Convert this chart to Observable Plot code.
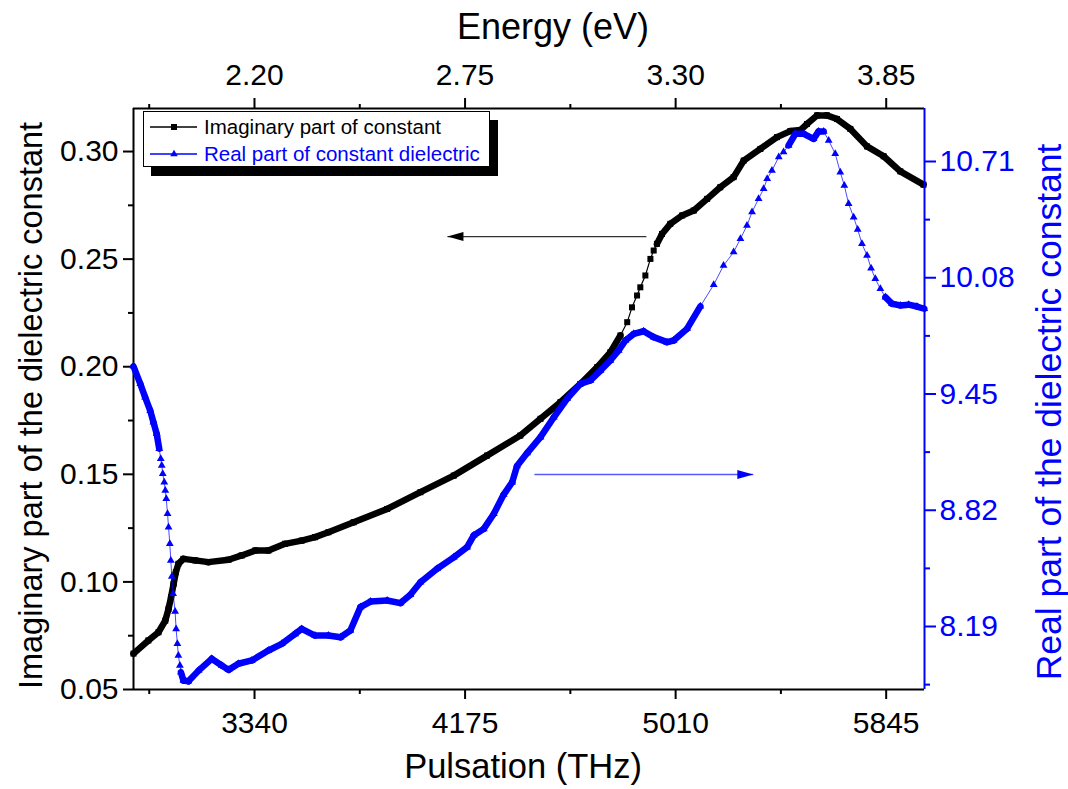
<!DOCTYPE html>
<html>
<head>
<meta charset="utf-8">
<script src="https://cdn.jsdelivr.net/npm/d3@7"></script>
<script src="https://cdn.jsdelivr.net/npm/@observablehq/plot@0.6"></script>
<style>
  html, body { margin: 0; padding: 0; background: #fff; }
  #wrap { position: relative; width: 1068px; height: 789px; overflow: hidden; font-family: "Liberation Sans", Arial, Helvetica, sans-serif; }
  #wrap > svg, #wrap > figure { position: absolute; left: 0; top: 0; margin: 0; }
  #legend { position: absolute; left: 143px; top: 111px; width: 345px; height: 54px; background: #fff;
            border: 1.5px solid #000; box-shadow: 8px 9px 0 #000; font-size: 20.5px; }
  #legend .row { position: absolute; left: 0; height: 26px; display: flex; align-items: center; white-space: nowrap; }
  #legend svg { display: block; }
</style>
</head>
<body>
<div id="wrap"></div>
<script>
// ---------------- data ----------------
// Imaginary part (left axis) vs pulsation (THz)
const imagPulsation = [2860,2919,2959,2986,2999,3009,3019,3028,3038,3058,3105,3157,3237,3289,3343,3395,3461,3527,3580,3633,3733,3866,3998,4130,4262,4394,4474,4553,4632,4699,4751,4791,4818,4837,4857,4870,4890,4910,4923,4936,4956,4989,5036,5082,5135,5187,5240,5280,5346,5412,5465,5505,5531,5571,5610,5650,5703,5769,5835,5901,5993];
const imagValues = [0.0667,0.0728,0.0766,0.0820,0.0875,0.0929,0.0991,0.1045,0.1084,0.1107,0.1100,0.1092,0.1103,0.1123,0.1146,0.1146,0.1177,0.1192,0.1208,0.1231,0.1277,0.1339,0.1417,0.1494,0.1587,0.1680,0.1758,0.1835,0.1920,0.1998,0.2067,0.2145,0.2207,0.2276,0.2331,0.2369,0.2424,0.2501,0.2540,0.2571,0.2617,0.2664,0.2703,0.2726,0.2780,0.2834,0.2881,0.2958,0.3012,0.3067,0.3095,0.3100,0.3128,0.3168,0.3168,0.3151,0.3105,0.3024,0.2978,0.2908,0.2846];

// Real part (right axis) vs pulsation (THz)
const realPulsation = [2860,2887,2906,2926,2939,2952,2962,2968,2972,2976,2982,2986,2990,2995,2999,3004,3008,3012,3017,3025,3029,3034,3038,3044,3048,3058,3078,3118,3170,3210,3237,3276,3329,3395,3448,3501,3527,3580,3633,3681,3720,3760,3800,3866,3919,3958,3998,4064,4130,4183,4209,4249,4289,4328,4362,4381,4421,4474,4527,4580,4632,4672,4712,4751,4784,4811,4844,4883,4923,4976,5002,5055,5108,5161,5200,5240,5267,5293,5313,5339,5359,5373,5392,5419,5438,5458,5485,5518,5557,5577,5597,5617,5643,5663,5679,5696,5716,5732,5749,5769,5785,5802,5822,5842,5868,5901,5934,5967,5996];
const realValues = [9.600,9.505,9.433,9.361,9.297,9.234,9.153,9.099,9.063,9.018,8.972,8.927,8.882,8.801,8.728,8.638,8.548,8.461,8.367,8.271,8.177,8.096,8.033,7.979,7.942,7.897,7.893,7.951,8.015,7.979,7.955,7.988,8.006,8.060,8.096,8.150,8.177,8.141,8.141,8.132,8.168,8.295,8.325,8.331,8.317,8.362,8.430,8.503,8.565,8.620,8.683,8.719,8.801,8.905,8.972,9.060,9.130,9.216,9.324,9.425,9.505,9.523,9.577,9.632,9.686,9.740,9.776,9.790,9.758,9.731,9.740,9.803,9.925,10.042,10.146,10.219,10.291,10.363,10.436,10.508,10.562,10.616,10.661,10.734,10.761,10.797,10.860,10.860,10.833,10.873,10.873,10.824,10.752,10.652,10.580,10.481,10.408,10.342,10.264,10.201,10.132,10.074,10.020,9.975,9.939,9.930,9.934,9.924,9.912];

// axes
const pulsationDomain = [2860, 5997];
const pulsationTicks = [3340, 4175, 5010, 5845];
const pulsationMinor = [2922.5, 3757.5, 4592.5, 5427.5];
const energyDomain = [1.884, 3.950];
const energyTicks = [2.20, 2.75, 3.30, 3.85];
const energyMinor = [1.925, 2.475, 3.025, 3.575];
const imagDomain = [0.05, 0.32];
const imagTicks = [0.05, 0.10, 0.15, 0.20, 0.25, 0.30];
const imagMinor = [0.075, 0.125, 0.175, 0.225, 0.275];
const realDomain = [7.8486, 10.9972];
const realTicks = [8.19, 8.82, 9.45, 10.08, 10.71];
const realMinor = [7.875, 8.505, 9.135, 9.765, 10.395];

// texts
const titleBottom = "Pulsation (THz)";
const titleTop = "Energy (eV)";
const titleLeft = "Imaginary part of the dielectric constant";
const titleRight = "Real part of the dielectric constant";
const legendLabels = ["Imaginary part of constant", "Real part of constant dielectric"];

// annotation arrows (data units)
const arrowImag = [{x1: 4894, x2: 4105, y: 0.2605}];
const arrowReal = [{x1: 4450, x2: 5318, y: 9.014}];

// ---------------- drawing ----------------
const W = 1068, H = 789;
const M = {top: 108, right: 144, bottom: 100, left: 133};
const BLUE = "#0000ff";
const FONT = "'Liberation Sans', Arial, Helvetica, sans-serif";
const TICK_FS = 30;

const imag = imagPulsation.map((x, i) => ({x, y: imagValues[i]}));
const real = realPulsation.map((x, i) => ({x, y: realValues[i]}));

// segments where the reference's markers overlap into a continuous band
function bandSegments(pts, yDomain, markerExtent) {
  const kx = (W - M.left - M.right) / (pulsationDomain[1] - pulsationDomain[0]);
  const ky = (H - M.top - M.bottom) / (yDomain[1] - yDomain[0]);
  const n = pts.length, segs = [];
  for (let i = 0; i < n - 1; i++) {
    const a = pts[Math.max(0, i - 1)], b = pts[Math.min(n - 1, i + 2)];
    const slope = ((b.y - a.y) * ky) / ((b.x - a.x) * kx);
    const step = (pts[i].x * pts[i].x / 1.884e6) * kx; // marker pitch along x
    const pitch = step * Math.hypot(1, slope);
    if (pitch < markerExtent) segs.push({x1: pts[i].x, y1: pts[i].y, x2: pts[i + 1].x, y2: pts[i + 1].y});
  }
  return segs;
}

const arrowHead = {
  draw(ctx) { ctx.moveTo(0, 0); ctx.lineTo(16, -4.5); ctx.lineTo(16, 4.5); ctx.closePath(); }
};

function base(extra, color) {
  return Object.assign({
    width: W, height: H,
    marginTop: M.top, marginRight: M.right, marginBottom: M.bottom, marginLeft: M.left,
    style: {background: "transparent", fontFamily: FONT, overflow: "visible", color: color || "#000"}
  }, extra);
}

const plotImag = Plot.plot(base({
  x: {domain: pulsationDomain, axis: null},
  y: {domain: imagDomain, axis: null},
  marks: [
    Plot.ruleY([imagDomain[0], imagDomain[1]], {stroke: "#000", strokeWidth: 2}),
    Plot.ruleX([pulsationDomain[0]], {stroke: "#000", strokeWidth: 2}),
    Plot.axisY({ticks: imagTicks, tickSize: 10, tickPadding: 5, tickFormat: d3.format(".2f"), fontSize: TICK_FS, strokeWidth: 2, label: null}),
    Plot.axisY({ticks: imagMinor, tickSize: 5, tickFormat: () => "", strokeWidth: 2, label: null}),
    Plot.axisX({ticks: pulsationTicks, tickSize: 10, tickPadding: 12, tickFormat: d => String(d), fontSize: TICK_FS, strokeWidth: 2, label: null}),
    Plot.axisX({ticks: pulsationMinor, tickSize: 5, tickFormat: () => "", strokeWidth: 2, label: null}),
    Plot.text([titleLeft], {text: d => d, frameAnchor: "left", textAnchor: "middle", lineAnchor: "middle", rotate: -90, dx: -102, dy: 6.5, fontSize: 32.5, fill: "#000"}),
    Plot.text([titleBottom], {text: d => d, frameAnchor: "bottom", textAnchor: "middle", lineAnchor: "middle", dx: -6, dy: 77, fontSize: 34.5, fill: "#000"}),
    Plot.link(arrowImag, {x1: "x1", x2: "x2", y1: "y", y2: "y", stroke: "#333", strokeWidth: 1.3}),
    Plot.dot(arrowImag, {x: "x2", y: "y", symbol: arrowHead, fill: "#000", stroke: null}),
    Plot.link(bandSegments(imag, imagDomain, 7), {x1: "x1", y1: "y1", x2: "x2", y2: "y2", stroke: "#000", strokeWidth: 6.5, strokeLinecap: "round"}),
    Plot.line(imag, {x: "x", y: "y", stroke: "#000", strokeWidth: 1.2}),
    Plot.dot(imag, {x: "x", y: "y", symbol: "square", r: 3.4, fill: "#000", stroke: null})
  ]
}));

const plotReal = Plot.plot(base({
  x: {domain: pulsationDomain, axis: null},
  y: {domain: realDomain, axis: null},
  marks: [
    Plot.ruleX([pulsationDomain[1]], {stroke: BLUE, strokeWidth: 2}),
    Plot.axisY({anchor: "right", ticks: realTicks, tickSize: 11, tickPadding: 4, tickFormat: d3.format(".2f"), fontSize: TICK_FS, strokeWidth: 2, label: null}),
    Plot.axisY({anchor: "right", ticks: realMinor, tickSize: 5, tickFormat: () => "", strokeWidth: 2, label: null}),
    Plot.text([titleRight], {text: d => d, frameAnchor: "right", textAnchor: "middle", lineAnchor: "middle", rotate: -90, dx: 125, dy: 13, fontSize: 35.5, fill: BLUE}),
    Plot.link(arrowReal, {x1: "x1", x2: "x2", y1: "y", y2: "y", stroke: BLUE, strokeOpacity: 0.65, strokeWidth: 1.5}),
    Plot.dot(arrowReal, {x: "x2", y: "y", symbol: arrowHead, rotate: 180, fill: BLUE, stroke: null}),
    Plot.link(bandSegments(real, realDomain, 6), {x1: "x1", y1: "y1", x2: "x2", y2: "y2", stroke: BLUE, strokeWidth: 6.5, strokeLinecap: "round"}),
    Plot.line(real, {x: "x", y: "y", stroke: BLUE, strokeWidth: 1, strokeOpacity: 0.7}),
    Plot.dot(real, {x: "x", y: "y", symbol: "triangle", r: 2.9, fill: BLUE, stroke: null})
  ]
}, BLUE));

const plotEnergy = Plot.plot(base({
  x: {domain: energyDomain, axis: null},
  marks: [
    Plot.axisX({anchor: "top", ticks: energyTicks, tickSize: 11, tickPadding: 13, tickFormat: d3.format(".2f"), fontSize: TICK_FS, strokeWidth: 2, label: null}),
    Plot.axisX({anchor: "top", ticks: energyMinor, tickSize: 5, tickFormat: () => "", strokeWidth: 2, label: null}),
    Plot.text([titleTop], {text: d => d, frameAnchor: "top", textAnchor: "middle", lineAnchor: "middle", dx: 24, dy: -81, fontSize: 36, fill: "#000"})
  ]
}));

const wrap = document.getElementById("wrap");
wrap.append(plotImag, plotReal, plotEnergy);

// legend
const legend = document.createElement("div");
legend.id = "legend";
function row(top, color, symbolPath, label) {
  const r = document.createElement("div");
  r.className = "row";
  r.style.top = top + "px";
  r.innerHTML = `<svg width="60" height="26"><line x1="6" x2="53" y1="13" y2="13" stroke="${color}" stroke-width="1.3"/>` +
    `<path d="${symbolPath}" transform="translate(30,13)" fill="${color}"/></svg><span style="color:${color}">${label}</span>`;
  return r;
}
legend.append(
  row(1.5, "#000", d3.symbol(d3.symbolSquare, Math.PI * 3.4 * 3.4)(), legendLabels[0]),
  row(28.5, BLUE, d3.symbol(d3.symbolTriangle, Math.PI * 2.8 * 2.8)(), legendLabels[1])
);
wrap.append(legend);
</script>
</body>
</html>
